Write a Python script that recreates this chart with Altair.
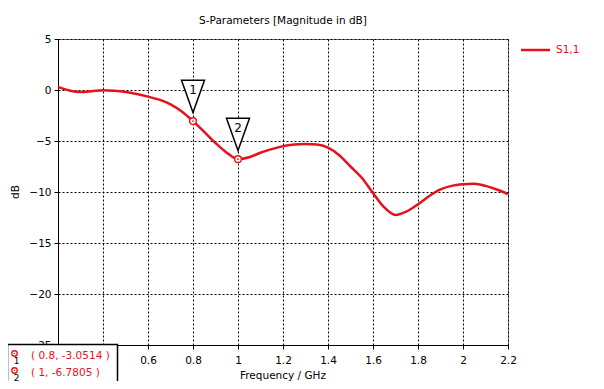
import altair as alt
import pandas as pd

# S1,1 curve
freq = [0.2, 0.25, 0.3, 0.35, 0.4, 0.45, 0.5, 0.55, 0.6, 0.65, 0.7, 0.75, 0.8, 0.85, 0.9,
        0.95, 1.0, 1.05, 1.1, 1.15, 1.2, 1.25, 1.3, 1.35, 1.4, 1.45, 1.5, 1.55, 1.6, 1.65,
        1.7, 1.75, 1.8, 1.85, 1.9, 1.95, 2.0, 2.05, 2.1, 2.15, 2.2]
s11 = [0.3, -0.05, -0.2, -0.12, -0.02, -0.08, -0.2, -0.4, -0.65, -0.95, -1.4, -2.1, -3.05,
       -4.1, -5.2, -6.15, -6.78, -6.6, -6.15, -5.8, -5.5, -5.35, -5.3, -5.35, -5.65, -6.4,
       -7.5, -8.6, -10.1, -11.5, -12.25, -11.9, -11.2, -10.4, -9.75, -9.4, -9.25, -9.2,
       -9.4, -9.75, -10.2]

marker_ids = ["1", "2"]
marker_f = [0.8, 1.0]
marker_db = [-3.0514, -6.7805]
marker_f_text = ["0.8", "1"]

x_ticks = [0.2, 0.4, 0.6, 0.8, 1.0, 1.2, 1.4, 1.6, 1.8, 2.0, 2.2]
y_ticks = [-25, -20, -15, -10, -5, 0, 5]

title_text = "S-Parameters [Magnitude in dB]"
x_title = "Frequency / GHz"
y_title = "dB"
series_name = "S1,1"

RED = "#e8101a"
FONT = "DejaVu Sans"

df = pd.DataFrame({"f": freq, "db": s11})
mk = pd.DataFrame({"id": marker_ids, "f": marker_f, "db": marker_db})

W, H = 450, 306

xs = alt.Scale(domain=[0.2, 2.2], nice=False, zero=False)
ys = alt.Scale(domain=[-25, 5], nice=False, zero=False)

X = alt.X("f:Q", scale=xs,
          axis=alt.Axis(values=x_ticks, format="~g", title=None, grid=True,
                        gridColor="black", gridDash=[2, 2], gridOpacity=1, gridWidth=1,
                        domainColor="black", tickColor="black", tickSize=4,
                        labelFont=FONT, labelFontSize=10.5, labelColor="black",
                        labelPadding=6, labelFlush=False))
Y = alt.Y("db:Q", scale=ys,
          axis=alt.Axis(values=y_ticks, title=None, grid=True,
                        gridColor="black", gridDash=[2, 2], gridOpacity=1, gridWidth=1,
                        domainColor="black", tickColor="black", tickSize=4,
                        labelFont=FONT, labelFontSize=10.5, labelColor="black",
                        labelPadding=3, labelFlush=False))

line = alt.Chart(df).mark_line(color=RED, strokeWidth=2.5, interpolate="monotone").encode(x=X, y=Y)

ring = alt.Chart(mk).mark_point(shape="circle", size=45, filled=True, fill="white",
                                stroke=RED, strokeWidth=1.4, opacity=1).encode(x=X, y=Y)
dot = alt.Chart(mk).mark_point(shape="circle", size=3, filled=True, color=RED,
                               opacity=1).encode(x=X, y=Y)

tri = alt.Chart(mk).mark_point(shape="M-1,-1.4L1,-1.4L0,1.4Z", size=529, filled=True,
                               fill="white", stroke="black", strokeWidth=1.5, opacity=1,
                               yOffset=-24.7).encode(x=X, y=Y)
tri_lbl = alt.Chart(mk).mark_text(font=FONT, fontSize=12, color="black", baseline="middle",
                                  yOffset=-31).encode(x=X, y=Y, text="id:N")

# title, axis titles, legend
title = alt.Chart(pd.DataFrame({"t": [title_text]})).mark_text(
    font=FONT, fontSize=10.5, color="black", baseline="alphabetic", align="center"
).encode(x=alt.value(W / 2), y=alt.value(-15), text="t:N")
xt = alt.Chart(pd.DataFrame({"t": [x_title]})).mark_text(
    font=FONT, fontSize=10.5, color="black", baseline="alphabetic", align="center"
).encode(x=alt.value(W / 2), y=alt.value(H + 33.5), text="t:N")
yt = alt.Chart(pd.DataFrame({"t": [y_title]})).mark_text(
    font=FONT, fontSize=10.5, color="black", baseline="middle", align="center", angle=270
).encode(x=alt.value(-42), y=alt.value(H / 2), text="t:N")

leg_line = alt.Chart(pd.DataFrame({"s": [series_name]})).mark_rule(color=RED, strokeWidth=2.5).encode(
    x=alt.value(463), x2=alt.value(492), y=alt.value(11))
leg_txt = alt.Chart(pd.DataFrame({"s": [series_name]})).mark_text(
    font=FONT, fontSize=10.5, color=RED, align="left", baseline="middle"
).encode(x=alt.value(498), y=alt.value(11), text="s:N")

# marker table box
box = alt.Chart(pd.DataFrame({"a": [0]})).mark_rect(fill="white", stroke="black", strokeWidth=1.5).encode(
    x=alt.value(-50.5), x2=alt.value(59.5), y=alt.value(305.5), y2=alt.value(349))

rows = []
row_y = [317, 334]
for i in range(2):
    txt = f"( {marker_f_text[i]}, {marker_db[i]:.4f} )"
    d = pd.DataFrame({"t": [txt], "id": [marker_ids[i]]})
    rows.append(alt.Chart(d).mark_point(shape="circle", size=30, filled=True, fill="white",
                                        stroke=RED, strokeWidth=1.3, opacity=1).encode(
        x=alt.value(-43.5), y=alt.value(row_y[i] - 2.5)))
    rows.append(alt.Chart(d).mark_point(shape="circle", size=2, filled=True, color=RED,
                                        opacity=1).encode(
        x=alt.value(-43.5), y=alt.value(row_y[i] - 2.5)))
    rows.append(alt.Chart(d).mark_text(font=FONT, fontSize=9, color="black", align="center",
                                       baseline="middle").encode(
        x=alt.value(-41.5), y=alt.value(row_y[i] + 5), text="id:N"))
    rows.append(alt.Chart(d).mark_text(font=FONT, fontSize=10.5, color=RED, align="left",
                                       baseline="middle").encode(
        x=alt.value(-27), y=alt.value(row_y[i]), text="t:N"))

chart = alt.layer(line, ring, dot, tri, tri_lbl, title, xt, yt, leg_line, leg_txt, box, *rows).properties(
    width=W, height=H,
    autosize=alt.AutoSizeParams(type="none"),
    padding={"left": 50, "top": 31, "right": 88, "bottom": 36},
    background="white",
).configure_view(stroke="#808080", strokeWidth=1)

chart.save("out.html", embed_options={"renderer": "svg", "actions": False})
